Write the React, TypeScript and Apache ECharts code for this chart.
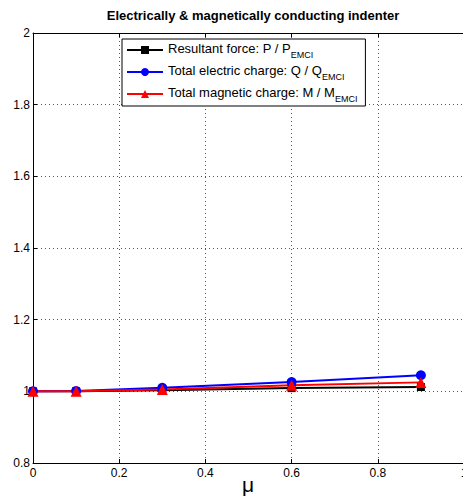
import React, { useEffect, useRef } from "react";
import * as echarts from "echarts";

const muValues = [0, 0.1, 0.3, 0.6, 0.9];
const forceRatio = [1.0, 1.0, 1.003, 1.009, 1.012];
const electricRatio = [1.0, 1.001, 1.01, 1.026, 1.045];
const magneticRatio = [1.0, 1.0, 1.005, 1.017, 1.025];

const titleText = "Electrically & magnetically conducting indenter";
const xAxisName = "μ";
const legendMain = ["Resultant force: P / P", "Total electric charge: Q / Q", "Total magnetic charge: M / M"];
const legendSub = ["EMCI", "EMCI", "EMCI"];

const FONT = "Liberation Sans, Arial, Helvetica, sans-serif";

export default function App() {
  const ref = useRef<HTMLDivElement>(null);
  useEffect(() => {
    if (!ref.current) return;
    const chart = echarts.init(ref.current, null, { renderer: "svg" });
    const mk = (name: string, vals: number[], color: string, symbol: string, size: number) => ({
      name,
      type: "line",
      data: muValues.map((m, i) => [m, vals[i]]),
      symbol,
      symbolSize: size,
      itemStyle: { color },
      lineStyle: { color, width: 2 },
      z: 3,
    });
    const names = legendMain.map((m, i) => m + "_" + i);
    chart.setOption({
      animation: false,
      backgroundColor: "#ffffff",
      title: {
        text: titleText,
        left: 248,
        textAlign: "center",
        top: 4,
        textStyle: { fontFamily: FONT, fontSize: 13, fontWeight: "bold", color: "#000" },
      },
      graphic: [
        {
          type: "text",
          x: 248,
          y: 484,
          style: {
            text: xAxisName,
            fontFamily: FONT,
            fontSize: 21,
            fill: "#000",
            align: "center",
            verticalAlign: "middle",
          },
        },
      ],
      grid: { left: 33, top: 33, width: 431, height: 430, outerBoundsMode: "none", containLabel: false },
      legend: {
        left: 122,
        top: 39,
        orient: "vertical",
        itemWidth: 36,
        itemHeight: 10,
        itemGap: 5,
        padding: [3, 8, 3, 4],
        borderColor: "#000",
        borderWidth: 1,
        backgroundColor: "#fff",
        data: names,
        formatter: (n: string) => {
          const i = names.indexOf(n);
          return "{a|" + legendMain[i] + "}{s|" + legendSub[i] + "}";
        },
        textStyle: {
          fontFamily: FONT,
          color: "#000",
          rich: {
            a: { fontFamily: FONT, fontSize: 13, color: "#000", lineHeight: 16, verticalAlign: "top" },
            s: { fontFamily: FONT, fontSize: 9, color: "#000", lineHeight: 16, padding: [8, 0, 0, 0], verticalAlign: "top" },
          },
        },
      },
      xAxis: [
        {
          type: "value",
          min: 0,
          max: 1,
          interval: 0.2,
          axisLine: { show: true, lineStyle: { color: "#000", width: 1 } },
          axisTick: { show: true, inside: true, length: 4, lineStyle: { color: "#000" } },
          axisLabel: {
            fontFamily: FONT,
            fontSize: 12,
            color: "#000",
            margin: 4,
            formatter: (v: number) => (v === 0 ? "0" : v === 1 ? "1" : String(+v.toFixed(1))),
          },
          splitLine: { show: true, lineStyle: { color: "#555", type: [1, 3], width: 1 } },
        },
        {
          type: "value",
          position: "top",
          min: 0,
          max: 1,
          interval: 0.2,
          axisLine: { show: true, lineStyle: { color: "#000", width: 1 } },
          axisTick: { show: true, inside: true, length: 4, lineStyle: { color: "#000" } },
          axisLabel: { show: false },
          splitLine: { show: false },
        },
      ],
      yAxis: [
        {
          type: "value",
          min: 0.8,
          max: 2,
          interval: 0.2,
          axisLine: { show: true, lineStyle: { color: "#000", width: 1 } },
          axisTick: { show: true, inside: true, length: 4, lineStyle: { color: "#000" } },
          axisLabel: {
            fontFamily: FONT,
            fontSize: 12,
            color: "#000",
            margin: 3,
            formatter: (v: number) => (Math.abs(v - 1) < 1e-9 ? "1" : Math.abs(v - 2) < 1e-9 ? "2" : v.toFixed(1)),
          },
          splitLine: { show: true, lineStyle: { color: "#555", type: [1, 3], width: 1 } },
        },
      ],
      series: [
        mk(names[0], forceRatio, "#000000", "rect", 8),
        mk(names[1], electricRatio, "#0000ff", "circle", 10),
        mk(names[2], magneticRatio, "#ff0000", "triangle", 11),
      ],
    });
    return () => chart.dispose();
  }, []);
  return <div ref={ref} style={{ width: 463, height: 498, position: "absolute", left: 0, top: 0 }} />;
}
